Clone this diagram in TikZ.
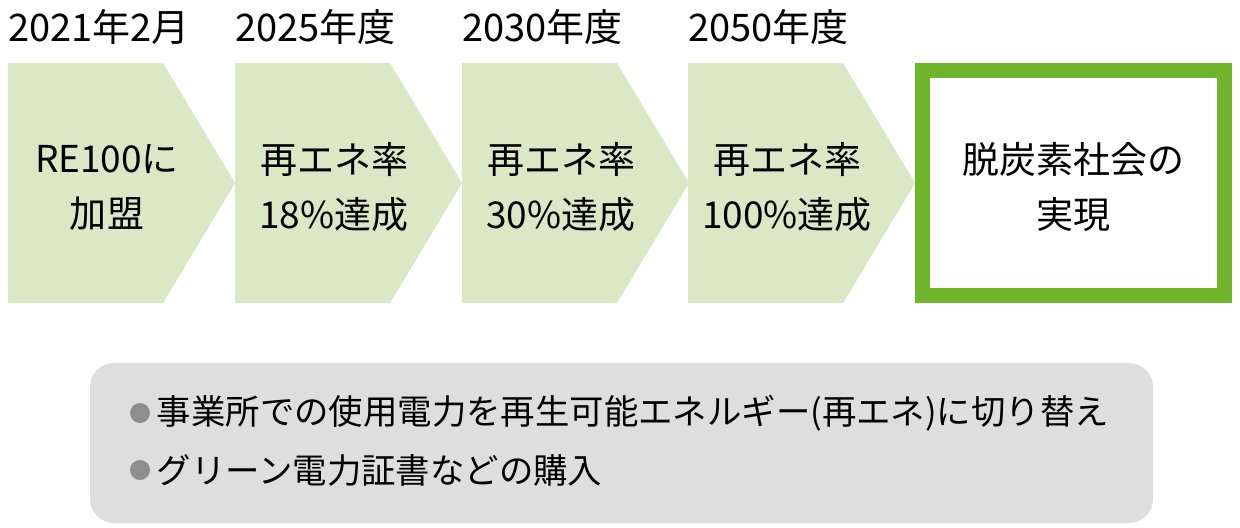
\documentclass[tikz,border=0pt]{standalone}
\usepackage{fontspec}
\setmainfont{Noto Sans CJK JP}
\usetikzlibrary{positioning, calc}
\definecolor{paleGreen}{HTML}{DAE8C5}
\definecolor{darkGreen}{HTML}{6EB52C}
\definecolor{boxGray}{HTML}{DEDEDE}
\definecolor{dotGray}{HTML}{8E8E8E}

\begin{document}
\begin{tikzpicture}[x=0.5pt,y=-0.5pt,
    chev/.style={fill=paleGreen},
    lbl/.style={font=\fontsize{18.5}{27.5}\selectfont, align=center, inner sep=0pt},
    year/.style={font=\fontsize{19}{20}\selectfont, anchor=west, inner sep=0pt},
    item/.style={font=\fontsize{17.2}{18}\selectfont, anchor=west, inner sep=0pt},
    dot/.style={circle, fill=dotGray, minimum size=10pt, inner sep=0pt}]
      \useasboundingbox (0,0) rectangle (1240,527);

      % steps
      \foreach \x/\n/\yr/\txt in {8/step_0/{2021年2月}/{RE100に\\加盟},
                                  235/step_1/{2025年度}/{再エネ率\\18\%達成},
                                  462/step_2/{2030年度}/{再エネ率\\30\%達成},
                                  688/step_3/{2050年度}/{再エネ率\\100\%達成}} {
        \fill[chev] (\x,63) -- ++(155,0) -- ++(72,120) -- ++(-72,120) -- ++(-155,0) -- cycle;
        \node[year] (\n_year) at (\x,27) {\yr};
        \node[lbl] (\n) at (\x+99,187) {\txt};
      }

      % goal
      \node[draw=darkGreen, line width=7.5pt, minimum width=151pt, minimum height=112.5pt] (goal_box) at (1073.5,183) {};
      \node[lbl] (goal) at (1073.5,187) {脱炭素社会の\\実現};

      % notes
      \node[fill=boxGray, rounded corners=12pt, minimum width=531.5pt, minimum height=80pt] (notes) at (621.5,443) {};
      \node[dot] (dot_0) at (140,413) {};
      \node[item, right=3pt of dot_0] (item_0) {事業所での使用電力を再生可能エネルギー(再エネ)に切り替え};
      \node[dot] (dot_1) at (140,470) {};
      \node[item, right=3pt of dot_1] (item_1) {グリーン電力証書などの購入};
\end{tikzpicture}
\end{document}
